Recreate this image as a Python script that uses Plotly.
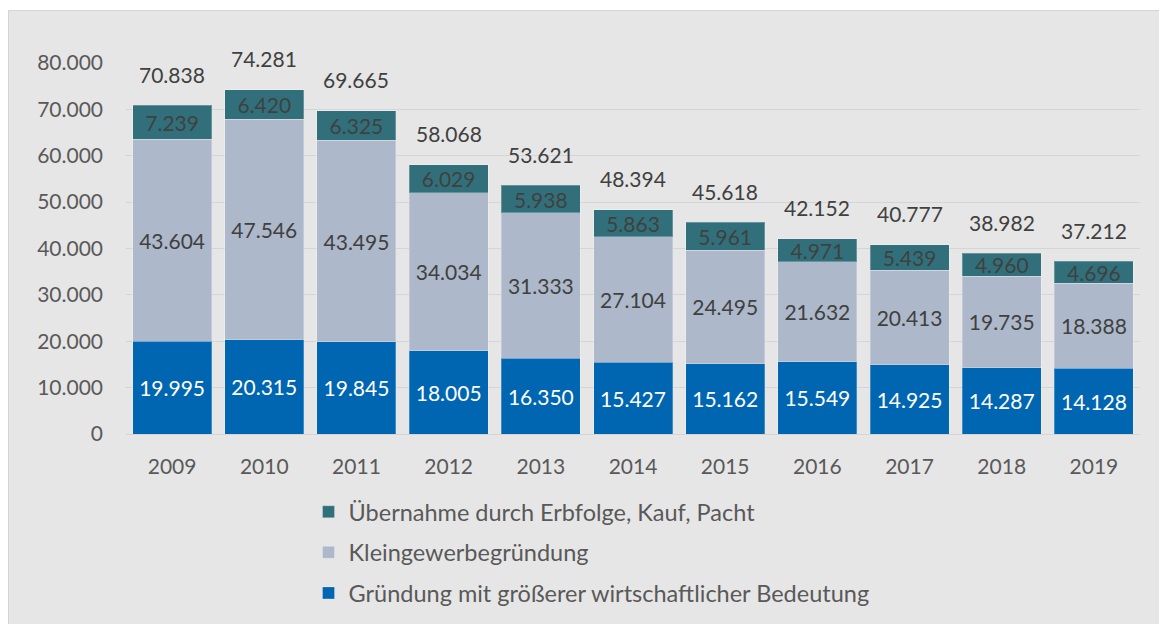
import plotly.graph_objects as go

years = ["2009", "2010", "2011", "2012", "2013", "2014", "2015", "2016", "2017", "2018", "2019"]
gruendung = [19995, 20315, 19845, 18005, 16350, 15427, 15162, 15549, 14925, 14287, 14128]
kleingewerbe = [43604, 47546, 43495, 34034, 31333, 27104, 24495, 21632, 20413, 19735, 18388]
uebernahme = [7239, 6420, 6325, 6029, 5938, 5863, 5961, 4971, 5439, 4960, 4696]
totals = [70838, 74281, 69665, 58068, 53621, 48394, 45618, 42152, 40777, 38982, 37212]
y_ticks = [0, 10000, 20000, 30000, 40000, 50000, 60000, 70000, 80000]

names = ["Gründung mit größerer wirtschaftlicher Bedeutung",
         "Kleingewerbegründung",
         "Übernahme durch Erbfolge, Kauf, Pacht"]

FONT = "Lato"
FS = 21
# the page body adds an 8px offset, so the figure is 8px smaller than the window
W, H = 1159, 616
L, R, T, B = 118, 27, 55, 190

fig = go.Figure()
series = [(gruendung, "#0066b2", "#ffffff"),
          (kleingewerbe, "#adb8ca", "#404040"),
          (uebernahme, "#31707b", "#404040")]
for i, (vals, col, tcol) in enumerate(series):
    fig.add_trace(go.Bar(
        x=years, y=vals, name=names[i], legendgroup=f"g{i}", legendrank=3 - i,
        marker=dict(color=col, line=dict(color="rgba(255,255,255,0.25)", width=1)),
        texttemplate="%{y:,.0f}", textposition="inside", insidetextanchor="middle",
        textangle=0, constraintext="none",
        textfont=dict(family=FONT, size=FS, color=tcol),
        hoverinfo="skip",
    ))

def fmt(v):
    return f"{v:,}".replace(",", ".")

for idx, t in enumerate(totals):
    fig.add_annotation(x=idx, y=t, text=fmt(t), showarrow=False, yshift=31,
                       font=dict(family=FONT, size=FS, color="#404040"))

pw = W - L - R
ph = H - T - B
fig.add_shape(type="rect", xref="paper", yref="paper", layer="below",
              x0=(0.5 - L) / pw, x1=(W + 5 - L) / pw,
              y0=(H - B - (H + 5)) / ph, y1=(H - B - 2.5) / ph,
              line=dict(color="#d4d4d4", width=1), fillcolor="#e6e6e6")

fig.update_layout(
    width=W, height=H,
    margin=dict(l=L, r=R, t=T, b=B, autoexpand=False),
    barmode="stack", bargap=0.143,
    separators=",.",
    paper_bgcolor="white", plot_bgcolor="rgba(0,0,0,0)",
    font=dict(family=FONT, size=FS, color="#595959"),
    uniformtext=dict(minsize=FS, mode="show"),
    showlegend=True,
    legend=dict(orientation="v", traceorder="grouped", tracegroupgap=7,
                x=0.18, xanchor="left", y=(H - B - 482) / ph, yanchor="top",
                bgcolor="rgba(0,0,0,0)",
                font=dict(family=FONT, size=23.5, color="#595959")),
    xaxis=dict(type="category", showgrid=False, showline=False, ticks="",
               ticklabelstandoff=18, automargin=False,
               tickfont=dict(family=FONT, size=FS, color="#595959")),
    yaxis=dict(range=[0, 80000], tickvals=y_ticks, tickformat=",.0f",
               showgrid=True, gridcolor="#d5d5d5", gridwidth=1,
               zeroline=True, zerolinecolor="#d5d5d5", zerolinewidth=1,
               showline=False, ticks="", ticklabelstandoff=22, automargin=False,
               tickfont=dict(family=FONT, size=FS, color="#595959")),
)

fig.write_html("out.html")
